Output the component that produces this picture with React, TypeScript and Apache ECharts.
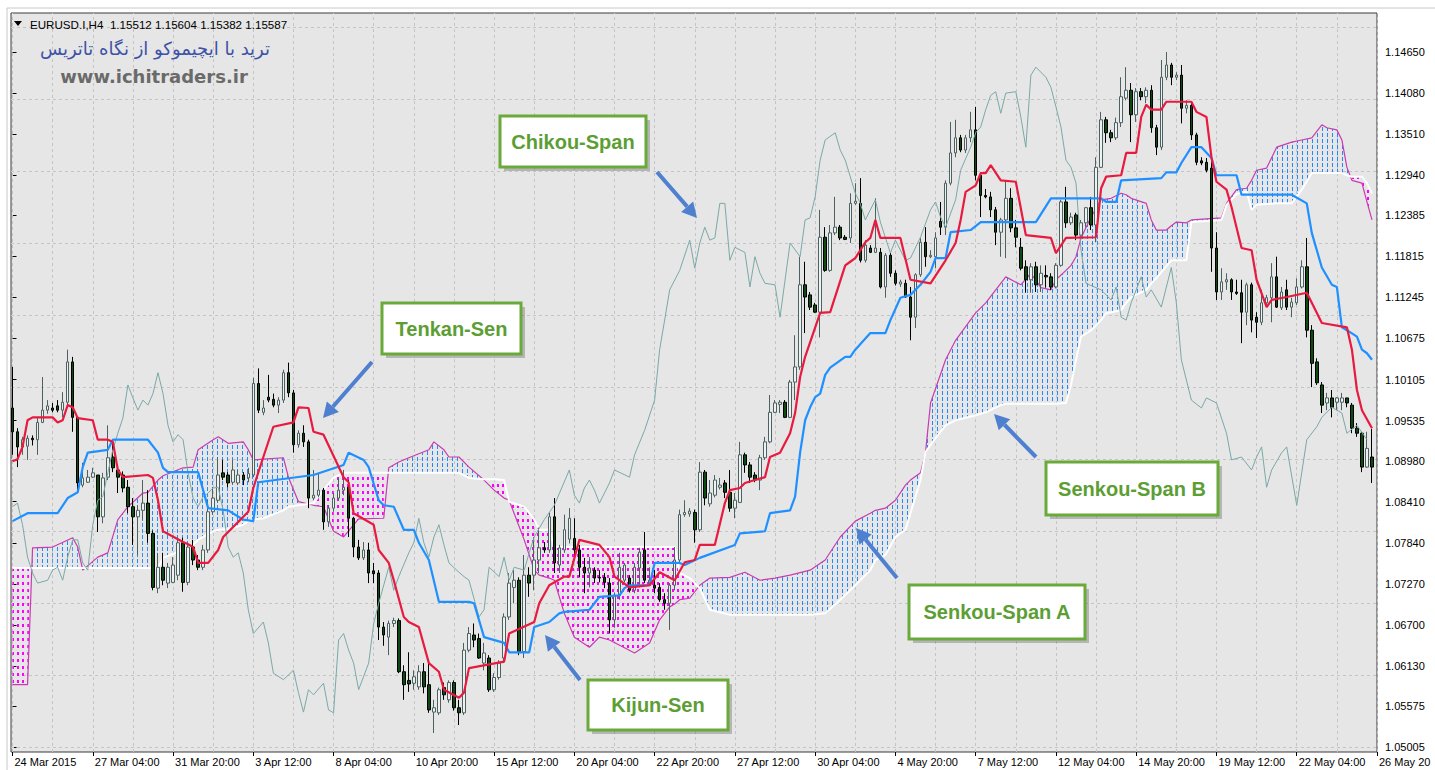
import React, { useEffect, useRef } from 'react';
import * as echarts from 'echarts';

// ---------- axis ticks ----------
const timeTickIdx = [0, 16, 32, 48, 64, 80, 96, 112, 128, 144, 160, 176, 192, 208, 224, 240, 256, 272];
const timeLabels = ['24 Mar 2015', '27 Mar 04:00', '31 Mar 20:00', '3 Apr 12:00', '8 Apr 04:00', '10 Apr 20:00', '15 Apr 12:00', '20 Apr 04:00', '22 Apr 20:00', '27 Apr 12:00', '30 Apr 04:00', '4 May 20:00', '7 May 12:00', '12 May 04:00', '14 May 20:00', '19 May 12:00', '22 May 04:00', '26 May 20'];
const gridIdx = [0, 8, 16, 24, 32, 40, 48, 56, 64, 72, 80, 88, 96, 104, 112, 120, 128, 136, 144, 152, 160, 168, 176, 184, 192, 200, 208, 216, 224, 232, 240, 248, 256, 264, 272];
const priceTicks = [1.1465, 1.1408, 1.1351, 1.1294, 1.12385, 1.11815, 1.11245, 1.10675, 1.10105, 1.09535, 1.0898, 1.0841, 1.0784, 1.0727, 1.067, 1.0613, 1.05575, 1.05005];

// ---------- candles: [open, close, low, high] ----------
const ohlc = [
[1.0971,1.0938,1.0906,1.1028],[1.0938,1.0917,1.0889,1.0943],[1.0917,1.0927,1.0906,1.0931],[1.0918,1.0929,1.0899,1.0933],[1.0929,1.0927,1.0919,1.0933],
[1.0927,1.0951,1.0906,1.0957],[1.0951,1.0968,1.0950,1.1014],[1.0968,1.0974,1.0963,1.0982],[1.0971,1.0968,1.0965,1.0978],[1.0974,1.0968,1.0965,1.0982],
[1.0968,1.0979,1.0958,1.0993],[1.0979,1.1035,1.0972,1.1052],[1.1035,1.0958,1.0938,1.1042],[1.0958,1.0867,1.0854,1.0958],[1.0864,1.0874,1.0861,1.0895],
[1.0868,1.0875,1.0867,1.0885],[1.0875,1.0881,1.0874,1.0888],[1.0878,1.0820,1.0799,1.0878],[1.0820,1.0874,1.0811,1.0881],[1.0875,1.0902,1.0871,1.0947],
[1.0903,1.0888,1.0882,1.0927],[1.0885,1.0875,1.0853,1.0889],[1.0878,1.0860,1.0854,1.0883],[1.0861,1.0834,1.0825,1.0871],[1.0834,1.0820,1.0781,1.0846],
[1.0820,1.0829,1.0767,1.0836],[1.0829,1.0839,1.0816,1.0871],[1.0839,1.0797,1.0784,1.0857],[1.0797,1.0722,1.0718,1.0801],[1.0721,1.0750,1.0714,1.0770],
[1.0750,1.0732,1.0725,1.0770],[1.0728,1.0750,1.0721,1.0756],[1.0729,1.0753,1.0728,1.0764],[1.0739,1.0784,1.0732,1.0788],[1.0784,1.0729,1.0716,1.0791],
[1.0729,1.0778,1.0725,1.0784],[1.0778,1.0760,1.0753,1.0788],[1.0760,1.0750,1.0746,1.0767],[1.0750,1.0774,1.0746,1.0781],[1.0774,1.0827,1.0770,1.0843],
[1.0827,1.0846,1.0823,1.0861],[1.0843,1.0878,1.0840,1.0903],[1.0881,1.0875,1.0871,1.0899],[1.0878,1.0867,1.0861,1.0882],[1.0868,1.0885,1.0865,1.0899],
[1.0867,1.0878,1.0864,1.0885],[1.0878,1.0871,1.0864,1.0882],[1.0874,1.0880,1.0868,1.0888],[1.0878,1.1005,1.0875,1.1013],[1.1005,1.0968,1.0964,1.1026],
[1.0965,1.0971,1.0961,1.0982],[1.0986,1.0982,1.0979,1.1017],[1.0983,1.0975,1.0972,1.0991],[1.0975,1.0982,1.0964,1.0986],[1.0982,1.1020,1.0978,1.1024],
[1.1020,1.0992,1.0986,1.1034],[1.0992,1.0920,1.0909,1.0996],[1.0920,1.0936,1.0916,1.0940],[1.0936,1.0924,1.0917,1.0947],[1.0924,1.0846,1.0832,1.0927],
[1.0846,1.0850,1.0843,1.0885],[1.0850,1.0857,1.0847,1.0881],[1.0857,1.0813,1.0802,1.0860],[1.0813,1.0832,1.0806,1.0836],[1.0832,1.0846,1.0827,1.0853],
[1.0846,1.0857,1.0843,1.0875],[1.0857,1.0861,1.0850,1.0885],[1.0861,1.0818,1.0792,1.0871],[1.0818,1.0778,1.0764,1.0820],[1.0778,1.0763,1.0760,1.0788],
[1.0763,1.0774,1.0760,1.0785],[1.0774,1.0742,1.0728,1.0784],[1.0745,1.0741,1.0728,1.0756],[1.0742,1.0667,1.0649,1.0746],[1.0667,1.0656,1.0641,1.0674],
[1.0653,1.0672,1.0628,1.0676],[1.0672,1.0676,1.0667,1.0680],[1.0676,1.0605,1.0603,1.0679],[1.0605,1.0587,1.0566,1.0614],[1.0593,1.0588,1.0577,1.0632],
[1.0589,1.0598,1.0580,1.0607],[1.0584,1.0605,1.0580,1.0614],[1.0605,1.0584,1.0575,1.0617],[1.0587,1.0552,1.0548,1.0617],[1.0549,1.0555,1.0520,1.0566],
[1.0548,1.0580,1.0545,1.0583],[1.0583,1.0573,1.0566,1.0590],[1.0566,1.0590,1.0562,1.0593],[1.0590,1.0555,1.0551,1.0593],[1.0555,1.0548,1.0531,1.0566],
[1.0548,1.0635,1.0545,1.0645],[1.0635,1.0658,1.0632,1.0667],[1.0656,1.0649,1.0639,1.0672],[1.0651,1.0624,1.0623,1.0658],[1.0617,1.0631,1.0607,1.0645],
[1.0624,1.0580,1.0577,1.0628],[1.0580,1.0597,1.0577,1.0603],[1.0597,1.0617,1.0594,1.0621],[1.0624,1.0681,1.0617,1.0686],[1.0681,1.0728,1.0677,1.0742],
[1.0722,1.0732,1.0700,1.0746],[1.0732,1.0633,1.0628,1.0736],[1.0633,1.0739,1.0624,1.0767],[1.0739,1.0728,1.0709,1.0750],[1.0739,1.0760,1.0718,1.0792],
[1.0760,1.0777,1.0742,1.0805],[1.0777,1.0774,1.0770,1.0785],[1.0774,1.0820,1.0770,1.0826],[1.0820,1.0756,1.0742,1.0846],[1.0753,1.0777,1.0742,1.0781],
[1.0774,1.0802,1.0770,1.0823],[1.0789,1.0818,1.0783,1.0832],[1.0790,1.0774,1.0767,1.0818],[1.0774,1.0750,1.0736,1.0781],[1.0750,1.0742,1.0714,1.0763],
[1.0742,1.0749,1.0722,1.0764],[1.0746,1.0735,1.0728,1.0750],[1.0736,1.0735,1.0729,1.0746],[1.0736,1.0729,1.0721,1.0742],[1.0728,1.0677,1.0658,1.0735],
[1.0677,1.0711,1.0666,1.0715],[1.0711,1.0750,1.0705,1.0770],[1.0732,1.0753,1.0729,1.0756],[1.0735,1.0718,1.0715,1.0739],[1.0718,1.0750,1.0714,1.0756],
[1.0749,1.0771,1.0722,1.0777],[1.0774,1.0732,1.0728,1.0799],[1.0728,1.0732,1.0725,1.0750],[1.0725,1.0721,1.0714,1.0746],[1.0722,1.0705,1.0702,1.0728],
[1.0705,1.0700,1.0691,1.0714],[1.0700,1.0725,1.0663,1.0728],[1.0725,1.0760,1.0718,1.0778],[1.0760,1.0823,1.0757,1.0830],[1.0823,1.0826,1.0820,1.0843],
[1.0824,1.0828,1.0820,1.0832],[1.0826,1.0802,1.0784,1.0830],[1.0802,1.0882,1.0799,1.0896],[1.0882,1.0846,1.0836,1.0885],[1.0838,1.0853,1.0834,1.0871],
[1.0850,1.0871,1.0847,1.0878],[1.0861,1.0864,1.0858,1.0874],[1.0867,1.0854,1.0846,1.0871],[1.0854,1.0832,1.0827,1.0885],[1.0832,1.0843,1.0818,1.0853],
[1.0840,1.0906,1.0839,1.0924],[1.0906,1.0892,1.0881,1.0909],[1.0892,1.0875,1.0867,1.0896],[1.0878,1.0871,1.0868,1.0882],[1.0871,1.0902,1.0857,1.0906],
[1.0902,1.0924,1.0899,1.0931],[1.0924,1.0965,1.0922,1.0989],[1.0965,1.0978,1.0964,1.0982],[1.0976,1.0979,1.0964,1.0982],[1.0979,1.0958,1.0957,1.0982],
[1.0958,1.1007,1.0957,1.1010],[1.1007,1.1028,1.0982,1.1072],[1.1028,1.1142,1.1024,1.1181],[1.1142,1.1125,1.1075,1.1174],[1.1128,1.1111,1.1107,1.1132],
[1.1114,1.1104,1.1103,1.1117],[1.1104,1.1208,1.1069,1.1246],[1.1208,1.1162,1.1160,1.1222],[1.1162,1.1214,1.1160,1.1225],[1.1214,1.1222,1.1211,1.1264],
[1.1222,1.1207,1.1204,1.1225],[1.1208,1.1205,1.1204,1.1211],[1.1207,1.1255,1.1200,1.1269],[1.1255,1.1258,1.1253,1.1283],[1.1255,1.1176,1.1173,1.1290],
[1.1176,1.1197,1.1173,1.1204],[1.1193,1.1187,1.1186,1.1197],[1.1187,1.1193,1.1186,1.1262],[1.1187,1.1139,1.1137,1.1193],[1.1139,1.1183,1.1124,1.1186],
[1.1183,1.1158,1.1153,1.1186],[1.1158,1.1144,1.1141,1.1162],[1.1143,1.1146,1.1139,1.1149],[1.1144,1.1125,1.1124,1.1149],[1.1125,1.1097,1.1065,1.1139],
[1.1097,1.1156,1.1082,1.1158],[1.1156,1.1201,1.1153,1.1207],[1.1201,1.1181,1.1167,1.1222],[1.1181,1.1183,1.1179,1.1190],[1.1181,1.1207,1.1165,1.1215],
[1.1230,1.1222,1.1211,1.1257],[1.1222,1.1283,1.1211,1.1287],[1.1283,1.1325,1.1280,1.1368],[1.1325,1.1346,1.1319,1.1371],[1.1346,1.1329,1.1326,1.1350],
[1.1329,1.1346,1.1325,1.1350],[1.1346,1.1357,1.1340,1.1382],[1.1357,1.1294,1.1287,1.1389],[1.1294,1.1266,1.1236,1.1298],[1.1266,1.1264,1.1262,1.1275],
[1.1264,1.1246,1.1236,1.1271],[1.1246,1.1215,1.1197,1.1250],[1.1215,1.1232,1.1181,1.1235],[1.1232,1.1262,1.1179,1.1287],[1.1262,1.1221,1.1215,1.1276],
[1.1221,1.1208,1.1194,1.1232],[1.1194,1.1165,1.1162,1.1207],[1.1167,1.1149,1.1131,1.1176],[1.1149,1.1167,1.1131,1.1172],[1.1167,1.1142,1.1132,1.1174],
[1.1142,1.1158,1.1132,1.1169],[1.1155,1.1153,1.1138,1.1169],[1.1153,1.1139,1.1135,1.1158],[1.1139,1.1169,1.1137,1.1172],[1.1169,1.1257,1.1167,1.1260],
[1.1257,1.1228,1.1221,1.1278],[1.1228,1.1236,1.1225,1.1242],[1.1239,1.1211,1.1204,1.1242],[1.1211,1.1228,1.1208,1.1232],[1.1228,1.1249,1.1222,1.1250],
[1.1249,1.1225,1.1218,1.1264],[1.1225,1.1305,1.1201,1.1319],[1.1305,1.1371,1.1304,1.1382],[1.1371,1.1353,1.1339,1.1375],[1.1353,1.1346,1.1340,1.1357],
[1.1346,1.1367,1.1343,1.1374],[1.1367,1.1403,1.1361,1.1430],[1.1401,1.1412,1.1398,1.1444],[1.1412,1.1378,1.1340,1.1422],[1.1378,1.1410,1.1368,1.1415],
[1.1410,1.1403,1.1398,1.1415],[1.1403,1.1412,1.1394,1.1416],[1.1412,1.1360,1.1353,1.1419],[1.1360,1.1333,1.1322,1.1364],[1.1333,1.1430,1.1329,1.1454],
[1.1430,1.1447,1.1426,1.1465],[1.1447,1.1430,1.1419,1.1450],[1.1430,1.1433,1.1426,1.1437],[1.1433,1.1387,1.1366,1.1447],[1.1387,1.1391,1.1380,1.1398],
[1.1391,1.1350,1.1343,1.1395],[1.1350,1.1312,1.1308,1.1353],[1.1314,1.1311,1.1308,1.1319],[1.1312,1.1301,1.1298,1.1318],[1.1304,1.1193,1.1160,1.1319],
[1.1193,1.1132,1.1121,1.1215],[1.1132,1.1146,1.1121,1.1165],[1.1146,1.1149,1.1135,1.1158],[1.1149,1.1132,1.1121,1.1151],[1.1132,1.1130,1.1128,1.1149],
[1.1131,1.1104,1.1061,1.1149],[1.1104,1.1142,1.1086,1.1145],[1.1142,1.1093,1.1076,1.1145],[1.1097,1.1090,1.1068,1.1104],[1.1090,1.1117,1.1086,1.1135],
[1.1117,1.1124,1.1112,1.1128],[1.1124,1.1153,1.1090,1.1172],[1.1153,1.1111,1.1110,1.1181],[1.1110,1.1132,1.1107,1.1139],[1.1135,1.1111,1.1107,1.1149],
[1.1111,1.1118,1.1097,1.1124],[1.1117,1.1139,1.1114,1.1151],[1.1139,1.1167,1.1137,1.1176],[1.1167,1.1079,1.1069,1.1207],[1.1079,1.1033,1.1000,1.1086],
[1.1035,1.1006,1.1003,1.1040],[1.1003,1.0975,1.0964,1.1007],[1.0978,1.0985,1.0968,1.0992],[1.0985,1.0972,1.0958,1.0996],[1.0979,1.0985,1.0968,1.0986],
[1.0979,1.0985,1.0968,1.0992],[1.0985,1.0978,1.0972,1.0985],[1.0975,1.0943,1.0936,1.0978],[1.0943,1.0936,1.0931,1.0950],[1.0936,1.0889,1.0882,1.0938],
[1.0889,1.0915,1.0888,1.0938],[1.0903,1.0889,1.0867,1.0942]
];

// ---------- Ichimoku lines: [bar index, price] ----------
const tenkan = [[0,1.0897],[1,1.0900],[2,1.0917],[3,1.0954],[4,1.0958],[8,1.0958],[9,1.0951],[10,1.0954],[11,1.0975],[12,1.0972],[13,1.0957],[16,1.0954],[17,1.0927],[19,1.0927],[20,1.0924],[21,1.0885],[22,1.0875],[27,1.0878],[28,1.0874],[29,1.0843],[30,1.0800],[34,1.0785],[35,1.0782],[36,1.0778],[37,1.0756],[39,1.0756],[41,1.0774],[42,1.0792],[45,1.0813],[47,1.0827],[48,1.0860],[50,1.0903],[52,1.0945],[56,1.0951],[57,1.0972],[59,1.0971],[60,1.0938],[62,1.0934],[66,1.0875],[67,1.0868],[68,1.0825],[70,1.0817],[72,1.0809],[73,1.0774],[75,1.0756],[76,1.0732],[78,1.0681],[79,1.0674],[81,1.0667],[83,1.0617],[85,1.0605],[86,1.0580],[89,1.0569],[90,1.0576],[91,1.0610],[98,1.0619],[99,1.0658],[104,1.0674],[105,1.0700],[107,1.0725],[110,1.0737],[111,1.0737],[113,1.0788],[117,1.0781],[119,1.0764],[120,1.0737],[121,1.0732],[123,1.0722],[127,1.0725],[129,1.0743],[132,1.0732],[134,1.0757],[136,1.0760],[137,1.0781],[140,1.0781],[142,1.0839],[143,1.0857],[145,1.0860],[146,1.0867],[148,1.0871],[150,1.0875],[151,1.0903],[153,1.0909],[155,1.0936],[156,1.0964],[157,1.1014],[158,1.1042],[161,1.1103],[163,1.1104],[166,1.1169],[167,1.1174],[168,1.1179],[170,1.1201],[171,1.1207],[172,1.1232],[173,1.1207],[177,1.1207],[179,1.1149],[183,1.1144],[186,1.1176],[188,1.1200],[189,1.1232],[190,1.1271],[192,1.1280],[193,1.1297],[194,1.1297],[195,1.1308],[197,1.1287],[200,1.1285],[202,1.1211],[207,1.1207],[208,1.1186],[210,1.1207],[216,1.1208],[217,1.1276],[218,1.1292],[221,1.1294],[222,1.1325],[224,1.1325],[225,1.1375],[226,1.1392],[227,1.1385],[229,1.1385],[230,1.1396],[235,1.1396],[236,1.1382],[238,1.1375],[239,1.1319],[240,1.1285],[242,1.1274],[243,1.1250],[245,1.1193],[247,1.1190],[248,1.1149],[250,1.1111],[251,1.1121],[254,1.1125],[258,1.1131],[259,1.1117],[261,1.1089],[266,1.1083],[267,1.1052],[268,1.0996],[269,1.0968],[271,1.0943]];

const kijun = [[0,1.0814],[3,1.0825],[9,1.0825],[11,1.0846],[13,1.0854],[14,1.0889],[15,1.0909],[19,1.0913],[20,1.0927],[27,1.0927],[29,1.0909],[30,1.0888],[31,1.0882],[37,1.0882],[38,1.0857],[39,1.0832],[43,1.0829],[46,1.0816],[48,1.0814],[49,1.0868],[60,1.0878],[63,1.0885],[66,1.0892],[67,1.0909],[70,1.0899],[71,1.0889],[73,1.0843],[74,1.0836],[76,1.0834],[78,1.0802],[80,1.0802],[81,1.0784],[83,1.0760],[85,1.0702],[91,1.0702],[92,1.0700],[94,1.0653],[98,1.0645],[99,1.0632],[103,1.0632],[104,1.0667],[107,1.0674],[109,1.0686],[110,1.0688],[115,1.0691],[116,1.0700],[117,1.0709],[121,1.0711],[122,1.0721],[123,1.0725],[127,1.0725],[128,1.0756],[133,1.0756],[134,1.0753],[137,1.0763],[144,1.0781],[145,1.0797],[150,1.0800],[151,1.0825],[155,1.0829],[156,1.0848],[157,1.0909],[158,1.0954],[159,1.0972],[160,1.0986],[161,1.0991],[162,1.1017],[163,1.1027],[166,1.1042],[167,1.1042],[168,1.1052],[171,1.1075],[174,1.1075],[175,1.1093],[177,1.1124],[179,1.1128],[181,1.1142],[183,1.1160],[184,1.1179],[186,1.1179],[187,1.1215],[191,1.1218],[193,1.1229],[204,1.1229],[207,1.1262],[217,1.1262],[218,1.1257],[220,1.1257],[221,1.1287],[229,1.1290],[230,1.1298],[232,1.1298],[233,1.1311],[235,1.1333],[237,1.1333],[239,1.1318],[240,1.1294],[244,1.1294],[245,1.1267],[255,1.1267],[258,1.1255],[259,1.1214],[261,1.1166],[263,1.1142],[264,1.1139],[265,1.1083],[266,1.1079],[268,1.1070],[269,1.1052],[270,1.1047],[271,1.1038]];

const chikou = [[0,1.0834],[1,1.0839],[2,1.0809],[3,1.0764],[4,1.0742],[5,1.0728],[7,1.0732],[8,1.0746],[9,1.0750],[10,1.0732],[11,1.0764],[12,1.0788],[13,1.0788],[14,1.0756],[15,1.0746],[16,1.0809],[17,1.0843],[18,1.0848],[19,1.0881],[20,1.0913],[21,1.0936],[22,1.0957],[23,1.1003],[24,1.0985],[25,1.0968],[26,1.0982],[27,1.0975],[28,1.0991],[29,1.1020],[30,1.0991],[31,1.0947],[32,1.0924],[33,1.0934],[34,1.0927],[35,1.0881],[36,1.0846],[37,1.0834],[38,1.0848],[39,1.0853],[40,1.0860],[41,1.0861],[42,1.0829],[43,1.0778],[44,1.0764],[45,1.0770],[46,1.0742],[47,1.0691],[48,1.0658],[50,1.0674],[51,1.0645],[52,1.0603],[54,1.0594],[56,1.0607],[57,1.0576],[58,1.0549],[59,1.0580],[60,1.0573],[62,1.0589],[63,1.0552],[64,1.0548],[65,1.0649],[66,1.0658],[67,1.0635],[68,1.0617],[69,1.0580],[71,1.0617],[72,1.0672],[73,1.0700],[75,1.0750],[76,1.0718],[77,1.0737],[79,1.0770],[80,1.0784],[81,1.0818],[82,1.0784],[83,1.0764],[84,1.0792],[85,1.0809],[86,1.0781],[87,1.0756],[89,1.0743],[90,1.0737],[91,1.0732],[93,1.0681],[94,1.0691],[95,1.0750],[97,1.0737],[98,1.0764],[99,1.0732],[100,1.0750],[102,1.0746],[103,1.0770],[104,1.0792],[106,1.0816],[108,1.0836],[111,1.0885],[112,1.0850],[113,1.0839],[114,1.0860],[115,1.0871],[116,1.0857],[117,1.0839],[119,1.0867],[120,1.0885],[123,1.0875],[124,1.0906],[126,1.0940],[128,1.0982],[129,1.1052],[130,1.1093],[131,1.1135],[133,1.1162],[135,1.1204],[136,1.1165],[137,1.1200],[138,1.1222],[139,1.1204],[140,1.1207],[141,1.1255],[142,1.1255],[143,1.1176],[144,1.1194],[146,1.1187],[147,1.1139],[148,1.1181],[149,1.1158],[150,1.1144],[152,1.1142],[153,1.1097],[155,1.1200],[157,1.1181],[158,1.1232],[159,1.1235],[160,1.1264],[161,1.1315],[162,1.1343],[164,1.1353],[165,1.1329],[166,1.1315],[168,1.1269],[169,1.1255],[170,1.1232],[172,1.1260],[173,1.1229],[175,1.1186],[176,1.1204],[178,1.1176],[179,1.1179],[181,1.1208],[183,1.1246],[184,1.1257],[185,1.1236],[186,1.1222],[188,1.1260],[189,1.1301],[191,1.1333],[192,1.1353],[193,1.1361],[194,1.1385],[195,1.1405],[196,1.1410],[197,1.1380],[198,1.1408],[200,1.1410],[201,1.1375],[202,1.1333],[203,1.1433],[204,1.1444],[206,1.1430],[207,1.1416],[208,1.1389],[209,1.1361],[210,1.1315],[211,1.1305],[212,1.1283],[213,1.1190],[214,1.1144],[217,1.1135],[219,1.1121],[220,1.1139],[221,1.1097],[222,1.1093],[223,1.1117],[225,1.1153],[226,1.1125],[227,1.1135],[229,1.1111],[231,1.1166],[232,1.1117],[233,1.1038],[235,1.0982],[237,1.0971],[238,1.0985],[240,1.0978],[242,1.0936],[243,1.0899],[245,1.0903],[247,1.0885],[248,1.0903],[249,1.0917],[250,1.0861],[251,1.0885],[253,1.0909],[254,1.0917],[256,1.0836],[258,1.0927],[260,1.0945],[261,1.0958],[263,1.0972],[265,1.0964],[266,1.0936],[268,1.0947],[270,1.0927]];

// cloud: bar index, Senkou Span A, Senkou Span B
const cloudIdx = [0,3,4,8,12,13,14,17,19,21,23,26,27,29,30,34,36,37,40,41,43,46,47,48,50,54,55,57,60,62,64,66,69,74,75,77,79,83,84,86,87,89,91,94,96,98,99,102,104,105,107,108,110,112,115,117,119,124,127,129,131,132,133,135,136,137,139,143,146,149,152,155,159,162,165,168,171,172,174,176,178,179,181,182,183,186,188,192,194,197,198,201,203,205,207,208,210,211,212,213,215,217,218,219,221,222,223,226,227,228,230,231,232,234,235,241,242,244,246,247,248,250,252,255,257,259,261,262,264,265,266,267,269,270,271];
const spanA = [1.0587,1.0587,1.0777,1.0778,1.0791,1.0778,1.0746,1.0764,1.0770,1.0816,1.0834,1.0853,1.0854,1.0871,1.0877,1.0888,1.0889,1.0913,1.0927,1.0931,1.0922,1.0924,1.0913,1.0899,1.0900,1.0902,1.0875,1.0841,1.0836,1.0834,1.0800,1.0792,1.0817,1.0818,1.0888,1.0896,1.0902,1.0913,1.0924,1.0913,1.0903,1.0903,1.0889,1.0871,1.0857,1.0846,1.0843,1.0788,1.0746,1.0739,1.0735,1.0732,1.0686,1.0653,1.0639,1.0653,1.0649,1.0631,1.0645,1.0677,1.0695,1.0699,1.0705,1.0707,1.0716,1.0725,1.0735,1.0736,1.0743,1.0732,1.0735,1.0739,1.0746,1.0760,1.0792,1.0814,1.0825,1.0829,1.0832,1.0843,1.0864,1.0871,1.0881,1.0909,1.0978,1.1038,1.1065,1.1103,1.1117,1.1144,1.1153,1.1142,1.1158,1.1138,1.1135,1.1149,1.1162,1.1169,1.1181,1.1207,1.1236,1.1260,1.1261,1.1262,1.1269,1.1267,1.1262,1.1255,1.1232,1.1218,1.1218,1.1224,1.1229,1.1228,1.1232,1.1235,1.1255,1.1274,1.1276,1.1287,1.1301,1.1304,1.1333,1.1340,1.1343,1.1346,1.1364,1.1360,1.1357,1.1343,1.1305,1.1287,1.1283,1.1257,1.1232];
const spanB = [1.0749,1.0749,1.0749,1.0749,1.0749,1.0749,1.0749,1.0749,1.0749,1.0749,1.0749,1.0749,1.0749,1.0749,1.0763,1.0774,1.0781,1.0788,1.0800,1.0802,1.0803,1.0809,1.0814,1.0816,1.0818,1.0829,1.0834,1.0836,1.0839,1.0857,1.0874,1.0881,1.0881,1.0881,1.0881,1.0881,1.0881,1.0881,1.0881,1.0881,1.0881,1.0881,1.0874,1.0872,1.0872,1.0871,1.0841,1.0834,1.0816,1.0802,1.0802,1.0778,1.0778,1.0778,1.0778,1.0778,1.0778,1.0778,1.0778,1.0778,1.0778,1.0778,1.0742,1.0735,1.0728,1.0721,1.0691,1.0684,1.0684,1.0684,1.0684,1.0684,1.0684,1.0686,1.0705,1.0725,1.0746,1.0760,1.0767,1.0792,1.0802,1.0825,1.0871,1.0910,1.0920,1.0947,1.0954,1.0961,1.0965,1.0975,1.0977,1.0977,1.0977,1.0977,1.0977,1.0977,1.0978,1.1003,1.1038,1.1070,1.1079,1.1093,1.1103,1.1104,1.1107,1.1117,1.1125,1.1135,1.1144,1.1151,1.1168,1.1176,1.1176,1.1176,1.1229,1.1232,1.1253,1.1268,1.1271,1.1246,1.1253,1.1254,1.1255,1.1255,1.1274,1.1297,1.1297,1.1297,1.1297,1.1297,1.1294,1.1292,1.1292,1.1283,1.1269];

const FONT = '"Liberation Sans", Arial, sans-serif';

function dotPattern(color: string, w: number, h: number, tileH: number) {
  const c = document.createElement('canvas');
  c.width = 5;
  c.height = tileH;
  const g = c.getContext('2d')!;
  g.fillStyle = color;
  g.fillRect(2, 1, w, h);
  return { image: c.toDataURL(), repeat: 'repeat', imageWidth: 5, imageHeight: tileH };
}

function arrow(x1: number, y1: number, x2: number, y2: number) {
  const dx = x2 - x1, dy = y2 - y1;
  const L = Math.hypot(dx, dy);
  const ux = dx / L, uy = dy / L;
  const hl = 15, hw = 8;
  const bx = x2 - ux * hl, by = y2 - uy * hl;
  const col = '#4f80d0';
  return [
    { type: 'line', shape: { x1, y1, x2: bx, y2: by }, style: { stroke: col, lineWidth: 4 }, z: 100 },
    { type: 'polygon', shape: { points: [[x2, y2], [bx - uy * hw, by + ux * hw], [bx + uy * hw, by - ux * hw]] }, style: { fill: col }, z: 100 },
  ];
}

function box(x: number, y: number, w: number, h: number, text: string) {
  return [
    { type: 'rect', shape: { x: x + 4, y: y + 4, width: w, height: h }, style: { fill: 'rgba(90,90,90,0.35)' }, z: 100 },
    { type: 'rect', shape: { x, y, width: w, height: h }, style: { fill: '#ffffff', stroke: '#6aaa3a', lineWidth: 3 }, z: 101 },
    { type: 'text', x: x + w / 2, y: y + h / 2, style: { text, fill: '#5c9e33', font: 'bold 20px ' + FONT, align: 'center', verticalAlign: 'middle', textAlign: 'center', textVerticalAlign: 'middle' }, z: 102 },
  ];
}

export default function App() {
  const ref = useRef<HTMLDivElement>(null);
  useEffect(() => {
    document.documentElement.style.overflow = 'hidden';
    document.body.style.overflow = 'hidden';
    const chart = echarts.init(ref.current!, null, { renderer: 'svg' });
    const bluePat = dotPattern('#2288ff', 1, 4, 6);
    const magPat = dotPattern('#ff00ff', 2, 3, 7);

    const cloudData = cloudIdx.map((i, k) => [i, spanA[k], spanB[k]]);

    const option: any = {
      animation: false,
      backgroundColor: '#ffffff',
      grid: { left: 11, right: 58, top: 13, bottom: 18, outerBoundsMode: 'none', containLabel: false, show: true, backgroundColor: '#e6e6e6', borderColor: '#3a3a3a', borderWidth: 1 },
      xAxis: {
        type: 'value', min: -0.3, max: 272,
        axisLine: { show: false },
        splitLine: { show: false },
        axisTick: { show: true, customValues: timeTickIdx, length: 4, lineStyle: { color: '#000' } },
        axisLabel: {
          customValues: timeTickIdx, align: 'left', margin: 4, padding: [0, 0, 0, 2],
          color: '#000', fontSize: 11, fontFamily: FONT,
          formatter: (v: number) => timeLabels[timeTickIdx.indexOf(Math.round(v))] || '',
        },
      },
      yAxis: {
        type: 'value', position: 'right', min: 1.04936, max: 1.15192, scale: true,
        axisLine: { show: false },
        splitLine: { show: false },
        axisTick: { show: true, customValues: priceTicks, length: 4, lineStyle: { color: '#000' } },
        axisLabel: {
          customValues: priceTicks, margin: 8, color: '#000', fontSize: 11, fontFamily: FONT,
          formatter: (v: number) => v.toFixed(5),
        },
      },
      series: [
        {
          type: 'line', data: [], silent: true,
          markLine: {
            silent: true, symbol: ['none', 'none'], z: 1, animation: false,
            label: { show: false },
            lineStyle: { type: [3, 3], color: '#c4c4c4', width: 1 },
            data: [
              ...priceTicks.map((v) => ({ yAxis: v })),
              ...gridIdx.map((i) => ({ xAxis: i })),
            ],
          },
        },
        {
          type: 'custom', z: 2, silent: true, clip: true,
          data: cloudData,
          encode: { x: 0, y: [1, 2] },
          renderItem: (params: any, api: any) => {
            const k = params.dataIndex;
            if (k >= cloudIdx.length - 1) return { type: 'group', children: [] };
            const a0 = api.coord([cloudIdx[k], spanA[k]]);
            const a1 = api.coord([cloudIdx[k + 1], spanA[k + 1]]);
            const b0 = api.coord([cloudIdx[k], spanB[k]]);
            const b1 = api.coord([cloudIdx[k + 1], spanB[k + 1]]);
            const d0 = spanA[k] - spanB[k];
            const d1 = spanA[k + 1] - spanB[k + 1];
            const fill = (d: number) => (d >= 0 ? bluePat : magPat);
            const children: any[] = [];
            if (d0 * d1 >= 0) {
              children.push({ type: 'polygon', shape: { points: [a0, a1, b1, b0] }, style: { fill: fill(d0 + d1) } });
            } else {
              const t = d0 / (d0 - d1);
              const c = [a0[0] + (a1[0] - a0[0]) * t, a0[1] + (a1[1] - a0[1]) * t];
              children.push({ type: 'polygon', shape: { points: [a0, c, b0] }, style: { fill: fill(d0) } });
              children.push({ type: 'polygon', shape: { points: [c, a1, b1] }, style: { fill: fill(d1) } });
            }
            return { type: 'group', children };
          },
        },
        {
          type: 'line', name: 'Senkou Span A', z: 3, silent: true, symbol: 'none',
          data: cloudIdx.map((i, k) => [i, spanA[k]]),
          lineStyle: { color: '#c83cb0', width: 1.2 },
        },
        {
          type: 'line', name: 'Senkou Span B', z: 3, silent: true, symbol: 'none',
          data: cloudIdx.map((i, k) => [i, spanB[k]]),
          lineStyle: { color: '#ffffff', width: 2 },
        },
        {
          type: 'candlestick', z: 4, silent: true,
          dimensions: ['idx', 'open', 'close', 'lowest', 'highest'],
          encode: { x: 'idx', y: ['open', 'close', 'lowest', 'highest'] },
          data: ohlc.map((d, i) => [i, d[0], d[1], d[2], d[3]]),
          barWidth: 3,
          itemStyle: { color: '#eef1f1', color0: '#0c4a12', borderColor: '#4e6161', borderColor0: '#000000', borderWidth: 1 },
        },
        {
          type: 'line', name: 'Chikou Span', z: 5, silent: true, symbol: 'none',
          data: chikou, lineStyle: { color: '#79a9a7', width: 1 },
        },
        {
          type: 'line', name: 'Kijun Sen', z: 6, silent: true, symbol: 'none',
          data: kijun, lineStyle: { color: '#1e90ff', width: 2.2 },
        },
        {
          type: 'line', name: 'Tenkan Sen', z: 7, silent: true, symbol: 'none',
          data: tenkan, lineStyle: { color: '#e81a3f', width: 2.2 },
        },
      ],
      graphic: {
        elements: [
          { type: 'polyline', shape: { points: [[7, 770], [7, 8], [1435, 8]] }, style: { stroke: '#c8c8c8', lineWidth: 1, fill: null }, z: 90 },
          { type: 'polygon', shape: { points: [[14, 21], [22, 21], [18, 26]] }, style: { fill: '#000' }, z: 100 },
          { type: 'text', x: 30, y: 24, style: { text: 'EURUSD.I,H4  1.15512 1.15604 1.15382 1.15587', fill: '#000', font: '11.6px ' + FONT, verticalAlign: 'middle', textVerticalAlign: 'middle' }, z: 100 },
          { type: 'text', x: 155, y: 48, style: { text: 'ترید با ایچیموکو از نگاه تاتریس', fill: '#3d52a6', font: '18px "DejaVu Sans", sans-serif', align: 'center', verticalAlign: 'middle', textAlign: 'center', textVerticalAlign: 'middle' }, z: 100 },
          { type: 'text', x: 154, y: 76, style: { text: 'www.ichitraders.ir', fill: '#6a6a6a', font: 'bold 18px "DejaVu Sans", sans-serif', align: 'center', verticalAlign: 'middle', textAlign: 'center', textVerticalAlign: 'middle' }, z: 100 },
          ...arrow(657, 172, 697, 218),
          ...arrow(372, 362, 323, 418),
          ...arrow(580, 680, 545, 635),
          ...arrow(897, 578, 856, 528),
          ...arrow(1036, 457, 994, 414),
          ...box(500, 116, 146, 51, 'Chikou-Span'),
          ...box(382, 303, 139, 51, 'Tenkan-Sen'),
          ...box(588, 680, 140, 50, 'Kijun-Sen'),
          ...box(909, 585, 176, 54, 'Senkou-Span A'),
          ...box(1046, 462, 172, 53, 'Senkou-Span B'),
        ],
      },
    };
    chart.setOption(option);
    return () => chart.dispose();
  }, []);
  return <div ref={ref} style={{ position: 'absolute', left: 0, top: 0, width: 1435, height: 770 }} />;
}
